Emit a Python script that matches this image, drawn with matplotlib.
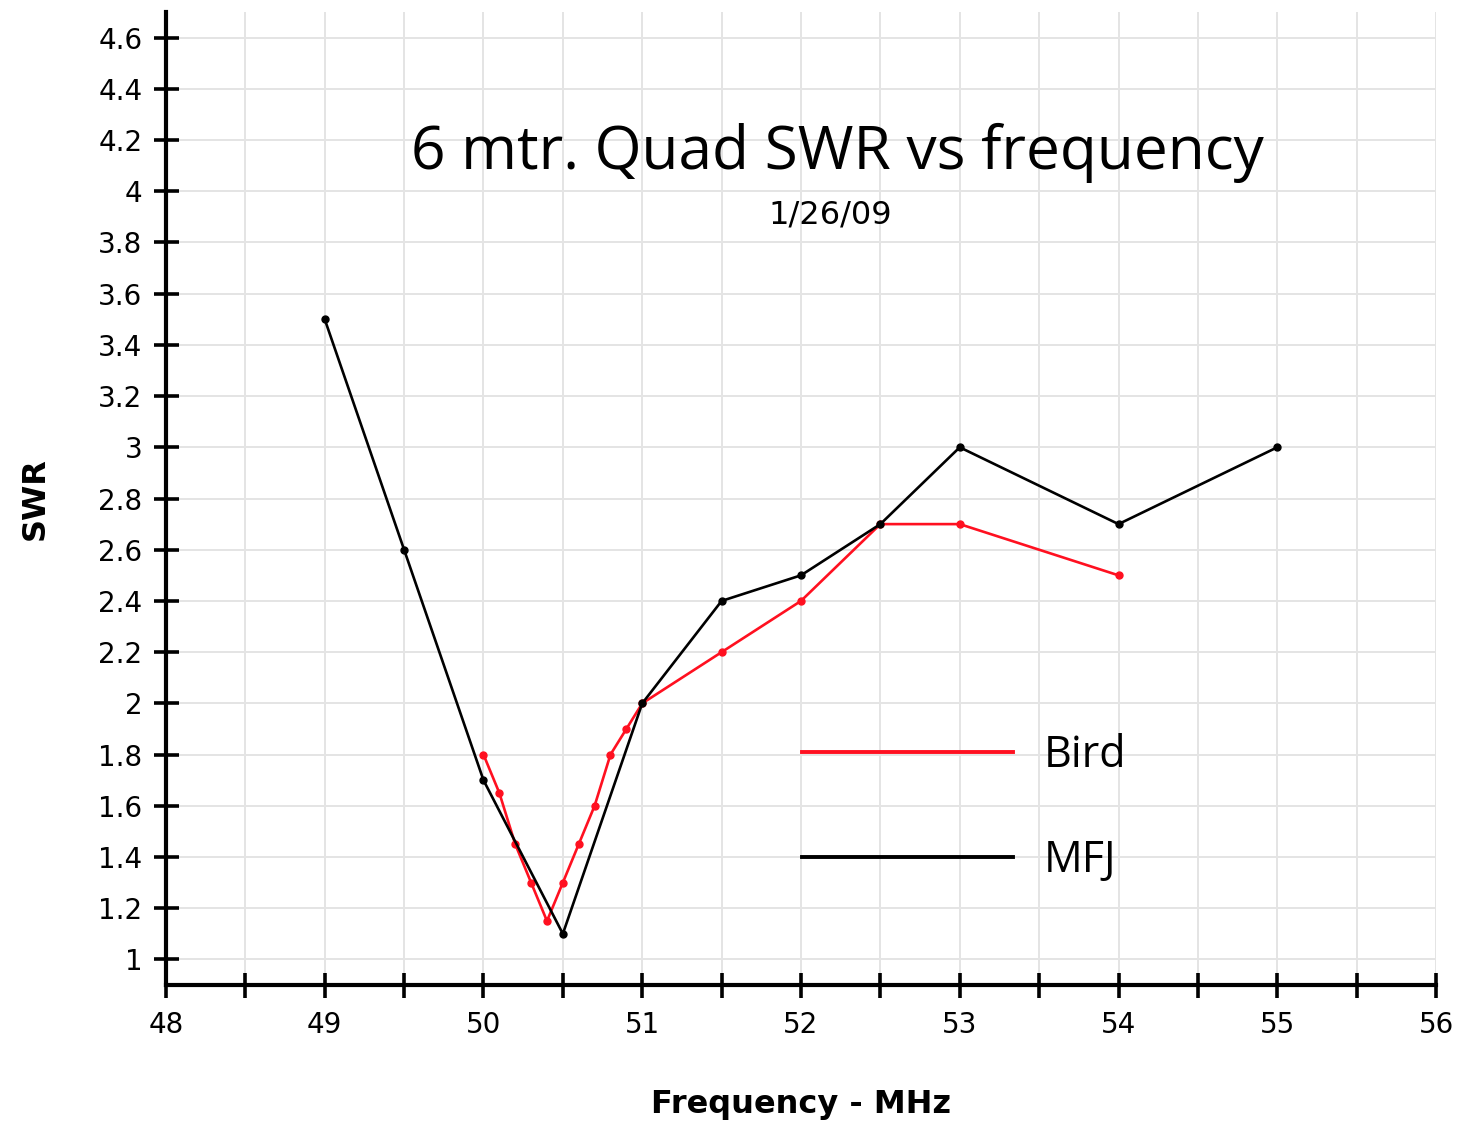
import matplotlib
matplotlib.use("Agg")
import matplotlib.pyplot as plt
from matplotlib.ticker import MultipleLocator

# MFJ analyser readings
mfj_freq = [49, 49.5, 50, 50.5, 51, 51.5, 52, 52.5, 53, 54, 55]
mfj_swr = [3.5, 2.6, 1.7, 1.1, 2.0, 2.4, 2.5, 2.7, 3.0, 2.7, 3.0]

# Bird wattmeter readings
bird_freq = [50, 50.1, 50.2, 50.3, 50.4, 50.5, 50.6, 50.7, 50.8, 50.9, 51,
             51.5, 52, 52.5, 53, 54]
bird_swr = [1.8, 1.65, 1.45, 1.3, 1.15, 1.3, 1.45, 1.6, 1.8, 1.9, 2.0,
            2.2, 2.4, 2.7, 2.7, 2.5]

x_ticks = [48, 49, 50, 51, 52, 53, 54, 55, 56]
y_ticks = [1, 1.2, 1.4, 1.6, 1.8, 2, 2.2, 2.4, 2.6, 2.8, 3, 3.2, 3.4, 3.6,
           3.8, 4, 4.2, 4.4, 4.6]
y_labels = ["1", "1.2", "1.4", "1.6", "1.8", "2", "2.2", "2.4", "2.6", "2.8",
            "3", "3.2", "3.4", "3.6", "3.8", "4", "4.2", "4.4", "4.6"]

fig = plt.figure(figsize=(14.61, 11.21), dpi=100)
ax = fig.add_axes([0.1136, 0.1213, 0.8693, 0.868])

ax.plot(bird_freq, bird_swr, color="#ff1020", lw=1.9, marker="o", ms=5,
        label="Bird", zorder=3)
ax.plot(mfj_freq, mfj_swr, color="black", lw=1.9, marker="o", ms=5,
        label="MFJ", zorder=3)

ax.set_xlim(48, 56)
ax.set_ylim(0.9, 4.7)

ax.xaxis.set_minor_locator(MultipleLocator(0.5))
ax.set_xticks(x_ticks)
ax.set_yticks(y_ticks)
ax.set_yticklabels(y_labels)

ax.grid(True, which="both", color="#e4e4e4", lw=1.4, zorder=0)
ax.set_axisbelow(True)

for side in ["top", "right"]:
    ax.spines[side].set_visible(False)
for side in ["left", "bottom"]:
    ax.spines[side].set_linewidth(3)

ax.tick_params(axis="both", which="both", direction="inout", width=2.6,
               length=18, labelsize=20)
ax.tick_params(axis="x", pad=10)
ax.tick_params(axis="y", pad=8)

ax.set_xlabel("Frequency - MHz", fontsize=23, fontweight="bold", labelpad=36)
ax.set_ylabel("SWR", fontsize=23, fontweight="bold", labelpad=34)

ax.text(0.529, 0.855, "6 mtr. Quad SWR vs frequency", transform=ax.transAxes,
        ha="center", va="center", fontsize=43.5, family="Open Sans")
ax.text(0.523, 0.791, "1/26/09", transform=ax.transAxes,
        ha="center", va="center", fontsize=23, family="DejaVu Sans")

ax.legend(loc="upper left", bbox_to_anchor=(0.484, 0.281), frameon=False,
          handlelength=4.9, handletextpad=0.7, labelspacing=1.42,
          borderpad=0, prop={"family": "Open Sans", "size": 31})
leg = ax.get_legend()
for h in leg.legend_handles:
    h.set_marker("")
    h.set_linewidth(2.8)

fig.savefig("out.png", dpi=100)
